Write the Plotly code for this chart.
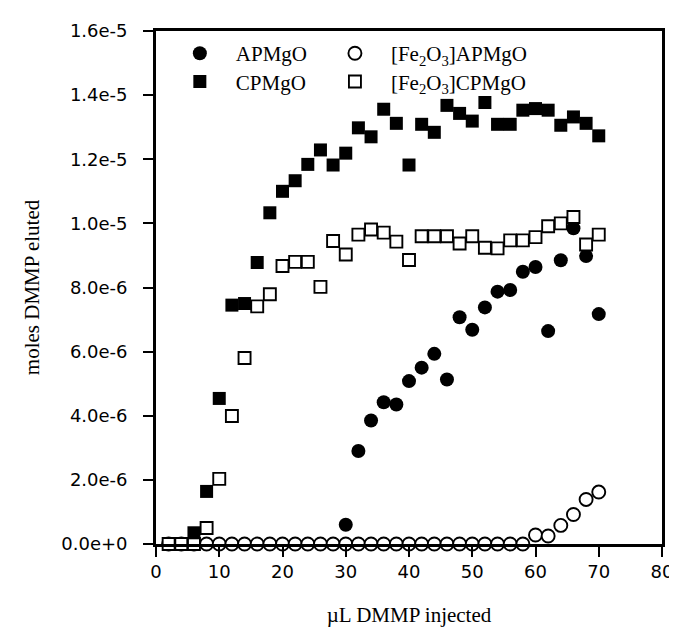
import plotly.graph_objects as go

# [Fe2O3]APMgO (open circles)
x_fe_ap = list(range(2, 72, 2))
y_fe_ap = [0]*29 + [0.28e-6, 0.25e-6, 0.58e-6, 0.92e-6, 1.39e-6, 1.62e-6]

# APMgO (filled circles)
x_ap = list(range(30, 72, 2))
y_ap = [0.6e-6, 2.9e-6, 3.85e-6, 4.42e-6, 4.35e-6, 5.08e-6, 5.5e-6, 5.93e-6, 5.13e-6,
        7.07e-6, 6.68e-6, 7.38e-6, 7.87e-6, 7.92e-6, 8.49e-6, 8.64e-6, 6.64e-6,
        8.85e-6, 9.85e-6, 8.98e-6, 7.17e-6]

# CPMgO (filled squares)
x_cp = list(range(6, 72, 2))
y_cp = [0.35e-6, 1.64e-6, 4.54e-6, 7.45e-6, 7.5e-6, 8.78e-6, 10.33e-6, 11.0e-6, 11.33e-6,
        11.84e-6, 12.29e-6, 11.82e-6, 12.19e-6, 12.98e-6, 12.7e-6, 13.56e-6, 13.12e-6,
        11.82e-6, 13.09e-6, 12.84e-6, 13.68e-6, 13.43e-6, 13.19e-6, 13.77e-6, 13.09e-6,
        13.09e-6, 13.53e-6, 13.58e-6, 13.53e-6, 13.06e-6, 13.32e-6, 13.12e-6, 12.73e-6]

# [Fe2O3]CPMgO (open squares)
x_fe_cp = list(range(2, 72, 2))
y_fe_cp = [0, 0, 0, 0.5e-6, 2.03e-6, 3.99e-6, 5.8e-6, 7.41e-6, 7.79e-6, 8.67e-6, 8.8e-6,
           8.8e-6, 8.02e-6, 9.45e-6, 9.03e-6, 9.65e-6, 9.81e-6, 9.71e-6, 9.43e-6, 8.86e-6,
           9.6e-6, 9.6e-6, 9.6e-6, 9.37e-6, 9.6e-6, 9.24e-6, 9.22e-6, 9.47e-6, 9.47e-6,
           9.57e-6, 9.91e-6, 10.0e-6, 10.2e-6, 9.34e-6, 9.65e-6]

y_tickvals = [0, 2e-6, 4e-6, 6e-6, 8e-6, 1.0e-5, 1.2e-5, 1.4e-5, 1.6e-5]
y_ticktext = ["0.0e+0", "2.0e-6", "4.0e-6", "6.0e-6", "8.0e-6", "1.0e-5", "1.2e-5", "1.4e-5", "1.6e-5"]
x_tickvals = [0, 10, 20, 30, 40, 50, 60, 70, 80]

serif = "Liberation Serif"
sans = "DejaVu Sans"

fig = go.Figure()
fig.add_trace(go.Scatter(x=x_fe_ap, y=y_fe_ap, mode="markers", name="[Fe<sub>2</sub>O<sub>3</sub>]APMgO",
                         legend="legend2",
                         marker=dict(symbol="circle", size=13, color="white",
                                     line=dict(color="black", width=1.9)), cliponaxis=False))
fig.add_trace(go.Scatter(x=x_ap, y=y_ap, mode="markers", name="APMgO", legend="legend",
                         marker=dict(symbol="circle", size=14, color="black",
                                     line=dict(color="black", width=0)), cliponaxis=False))
fig.add_trace(go.Scatter(x=x_fe_cp, y=y_fe_cp, mode="markers", name="[Fe<sub>2</sub>O<sub>3</sub>]CPMgO",
                         legend="legend4",
                         marker=dict(symbol="square", size=12, color="white",
                                     line=dict(color="black", width=1.9)), cliponaxis=False))
fig.add_trace(go.Scatter(x=x_cp, y=y_cp, mode="markers", name="CPMgO", legend="legend3",
                         marker=dict(symbol="square", size=13, color="black",
                                     line=dict(color="black", width=0)), cliponaxis=False))

def leg(x, y):
    return dict(x=x, y=y, xanchor="left", yanchor="middle", bgcolor="rgba(0,0,0,0)",
                font=dict(family=serif, size=21, color="black"), itemwidth=62,
                borderwidth=0)

fig.update_layout(
    width=677, height=627,
    margin=dict(l=148, r=14, t=19, b=89),
    paper_bgcolor="white", plot_bgcolor="white",
    showlegend=True,
    legend=leg(0.0155, 0.956),
    legend2=leg(0.322, 0.956),
    legend3=leg(0.0155, 0.901),
    legend4=leg(0.322, 0.901),
    xaxis=dict(range=[0, 80], tickvals=x_tickvals, ticks="outside", ticklen=10, tickwidth=2,
               tickcolor="black", showline=True, linewidth=2.7, linecolor="black", mirror=True,
               showgrid=False, zeroline=False,
               tickfont=dict(family=sans, size=18, color="black"),
               title=dict(text="µL DMMP injected", font=dict(family=serif, size=21, color="black"),
                          standoff=26)),
    yaxis=dict(range=[0, 1.6e-5], tickvals=y_tickvals, ticktext=y_ticktext, ticks="outside",
               ticklen=10, tickwidth=2, tickcolor="black", showline=True, linewidth=2.7,
               linecolor="black", mirror=True, showgrid=False, zeroline=False,
               ticklabelstandoff=12,
               tickfont=dict(family=sans, size=18, color="black"),
               title=dict(text="moles DMMP eluted", font=dict(family=serif, size=21, color="black"),
                          standoff=16)),
)

fig.write_html("out.html")
